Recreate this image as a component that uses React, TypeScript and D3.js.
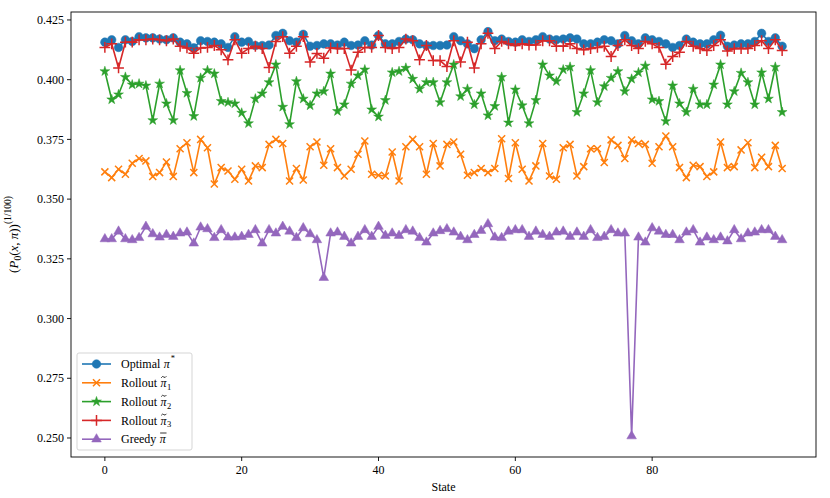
import { useLayoutEffect, useRef, useState } from "react";
import * as d3 from "d3";

const W = 830;
const H = 498;
const M = { top: 12, right: 14, bottom: 41, left: 71 };

const states = d3.range(100);

const optimal = [
  0.4157, 0.4167, 0.4135, 0.4167, 0.416, 0.418, 0.4175, 0.4175, 0.417, 0.4167,
  0.4175, 0.4157, 0.415, 0.4133, 0.4163, 0.416, 0.4157, 0.415, 0.4135, 0.418,
  0.4157, 0.416, 0.4143, 0.4143, 0.4145, 0.4185, 0.4194, 0.4163, 0.4157, 0.419,
  0.414, 0.4143, 0.415, 0.415, 0.4145, 0.4157, 0.4143, 0.4145, 0.4163, 0.4145,
  0.4185, 0.415, 0.415, 0.416, 0.417, 0.4167, 0.415, 0.4143, 0.4143, 0.4143,
  0.4145, 0.418, 0.4163, 0.415, 0.413, 0.4167, 0.4201, 0.4163, 0.417, 0.416,
  0.4157, 0.4167, 0.416, 0.4167, 0.418, 0.417, 0.4167, 0.417, 0.4175, 0.417,
  0.415, 0.415, 0.4157, 0.4167, 0.4163, 0.415, 0.4185, 0.4163, 0.415, 0.4175,
  0.4167, 0.416, 0.415, 0.4135, 0.4143, 0.417, 0.4157, 0.415, 0.415, 0.4167,
  0.4186, 0.414, 0.4145, 0.415, 0.415, 0.416, 0.4194, 0.416, 0.4175, 0.414,
];

const rollout1 = [
  0.3614, 0.359, 0.3625, 0.3604, 0.365, 0.367, 0.366, 0.3595, 0.3611, 0.3655,
  0.3595, 0.3711, 0.3736, 0.3611, 0.375, 0.3715, 0.3563, 0.3632, 0.3618, 0.3583,
  0.3625, 0.3576, 0.3639, 0.3632, 0.3729, 0.375, 0.3733, 0.3576, 0.3628, 0.358,
  0.3719, 0.3739, 0.3642, 0.3711, 0.3632, 0.3597, 0.3625, 0.3688, 0.3743, 0.3604,
  0.36, 0.3597, 0.3697, 0.3576, 0.3719, 0.375, 0.3719, 0.3604, 0.3733, 0.3639,
  0.3729, 0.3739, 0.3688, 0.36, 0.3611, 0.3628, 0.3611, 0.3628, 0.3753, 0.3586,
  0.3736, 0.3625, 0.3576, 0.3639, 0.3733, 0.3597, 0.3583, 0.3715, 0.3729, 0.3597,
  0.3636, 0.3711, 0.3711, 0.3653, 0.3748, 0.3725, 0.367, 0.3747, 0.3733, 0.3729,
  0.365, 0.3719, 0.3764, 0.3719, 0.3632, 0.359, 0.3642, 0.3636, 0.3595, 0.3614,
  0.3739, 0.3632, 0.3636, 0.3706, 0.3736, 0.3632, 0.3675, 0.3636, 0.3725, 0.3628,
];

const rollout2 = [
  0.4035, 0.3917, 0.3938, 0.4011, 0.3979, 0.3983, 0.3975, 0.383, 0.3983, 0.39,
  0.383, 0.4039, 0.3944, 0.3847, 0.4007, 0.4039, 0.4025, 0.391, 0.3905, 0.39,
  0.3861, 0.3817, 0.392, 0.3942, 0.3989, 0.4063, 0.3886, 0.3813, 0.3993, 0.392,
  0.3892, 0.3942, 0.3951, 0.4025, 0.3868, 0.3896, 0.3983, 0.4017, 0.4042, 0.3875,
  0.3845, 0.3914, 0.403, 0.4035, 0.4049, 0.4003, 0.3961, 0.3989, 0.3989, 0.3905,
  0.3989, 0.4063, 0.393, 0.3961, 0.3896, 0.3942, 0.385, 0.3889, 0.4011, 0.382,
  0.3958, 0.3892, 0.3817, 0.3914, 0.4063, 0.4017, 0.3993, 0.4042, 0.4053, 0.3864,
  0.3942, 0.4039, 0.3905, 0.3972, 0.4007, 0.4035, 0.3951, 0.4003, 0.403, 0.4058,
  0.3917, 0.391, 0.3826, 0.3975, 0.39, 0.3864, 0.3961, 0.3896, 0.3896, 0.3979,
  0.4063, 0.3896, 0.3951, 0.4028, 0.3989, 0.3896, 0.403, 0.392, 0.4053, 0.3864,
];

const rollout3 = [
  0.4135, 0.415, 0.4049, 0.4157, 0.4157, 0.4167, 0.4167, 0.417, 0.4167, 0.4163,
  0.417, 0.414, 0.4133, 0.4111, 0.4133, 0.4135, 0.4143, 0.4125, 0.4083, 0.4167,
  0.4111, 0.413, 0.414, 0.413, 0.4051, 0.416, 0.418, 0.4111, 0.414, 0.418,
  0.4074, 0.411, 0.409, 0.4133, 0.413, 0.413, 0.404, 0.4115, 0.4135, 0.4135,
  0.4185, 0.4135, 0.413, 0.4135, 0.417, 0.4163, 0.4083, 0.4143, 0.408, 0.408,
  0.4055, 0.4163, 0.4074, 0.4157, 0.4049, 0.415, 0.4194, 0.413, 0.416, 0.415,
  0.4143, 0.415, 0.4145, 0.4145, 0.4163, 0.4163, 0.414, 0.414, 0.415, 0.413,
  0.4125, 0.413, 0.4135, 0.414, 0.4097, 0.4143, 0.4167, 0.4143, 0.413, 0.416,
  0.415, 0.4135, 0.4065, 0.4097, 0.4115, 0.416, 0.414, 0.413, 0.4122, 0.4143,
  0.4167, 0.412, 0.413, 0.413, 0.413, 0.4143, 0.4163, 0.413, 0.4167, 0.4122,
];

const greedy = [
  0.3333, 0.3333, 0.3365, 0.3333, 0.3329, 0.3338, 0.3385, 0.3354, 0.334, 0.3351,
  0.3343, 0.3357, 0.3361, 0.3315, 0.3382, 0.3375, 0.3338, 0.3371, 0.334, 0.334,
  0.3343, 0.3351, 0.3371, 0.3315, 0.3371, 0.3357, 0.3385, 0.3365, 0.3338, 0.3379,
  0.3354, 0.3329, 0.3171, 0.3357, 0.3361, 0.3343, 0.3315, 0.3343, 0.3371, 0.3343,
  0.3385, 0.3347, 0.3357, 0.3347, 0.3371, 0.3365, 0.3338, 0.3319, 0.3357, 0.3367,
  0.3375, 0.3361, 0.3343, 0.3329, 0.3351, 0.3368, 0.3396, 0.334, 0.3338, 0.3365,
  0.3371, 0.3371, 0.3343, 0.3365, 0.3351, 0.3343, 0.3361, 0.3365, 0.3343, 0.3361,
  0.3343, 0.3371, 0.3338, 0.3343, 0.3371, 0.3357, 0.3357, 0.2508, 0.334, 0.3319,
  0.3379, 0.3365, 0.3351, 0.3351, 0.3329, 0.3361, 0.3371, 0.3319, 0.334, 0.3329,
  0.334, 0.3324, 0.3371, 0.3333, 0.3357, 0.3361, 0.3371, 0.3371, 0.3343, 0.3329,
];

const xTicks = [0, 20, 40, 60, 80];
const yTicks = [0.25, 0.275, 0.3, 0.325, 0.35, 0.375, 0.4, 0.425];

type Series = {
  values: number[];
  color: string;
  symbol: d3.SymbolType;
  size: number;
  filled: boolean;
  name: string;
  accent?: "tilde" | "bar";
  sub?: string;
  sup?: string;
};

const series: Series[] = [
  { values: optimal, color: "#1f77b4", symbol: d3.symbolCircle, size: 58, filled: true, name: "Optimal", sup: "*" },
  { values: rollout1, color: "#ff7f0e", symbol: d3.symbolTimes, size: 34, filled: false, name: "Rollout", accent: "tilde", sub: "1" },
  { values: rollout2, color: "#2ca02c", symbol: d3.symbolStar, size: 30, filled: true, name: "Rollout", accent: "tilde", sub: "2" },
  { values: rollout3, color: "#d62728", symbol: d3.symbolPlus, size: 40, filled: false, name: "Rollout", accent: "tilde", sub: "3" },
  { values: greedy, color: "#9467bd", symbol: d3.symbolTriangle, size: 40, filled: true, name: "Greedy", accent: "bar" },
];

const FONT = "'Liberation Serif', 'DejaVu Serif', serif";

export default function App() {
  const nameRefs = useRef<(SVGTextElement | null)[]>([]);
  const [nameW, setNameW] = useState<number[]>([38, 36, 36, 36, 37]);

  useLayoutEffect(() => {
    const w = nameRefs.current.map((el) => (el ? el.getComputedTextLength() : 36));
    setNameW(w);
  }, []);

  const x = d3.scaleLinear().domain([-4.95, 103.95]).range([M.left, W - M.right]);
  const y = d3.scaleLinear().domain([0.24204, 0.42833]).range([H - M.bottom, M.top]);

  const line = (vals: number[]) =>
    d3.line<number>().x((_, i) => x(states[i])).y((v) => y(v))(vals) ?? "";

  const legendX = 77;
  const legendY = 353;
  const rowH = 18.8;

  return (
    <svg
      width={W}
      height={H}
      viewBox={`0 0 ${W} ${H}`}
      style={{ position: "absolute", left: 0, top: 0, background: "#fff", fontFamily: FONT }}
    >
      <defs>
        <clipPath id="plot">
          <rect x={M.left} y={M.top} width={W - M.left - M.right} height={H - M.top - M.bottom} />
        </clipPath>
      </defs>

      <g clipPath="url(#plot)">
        {series.map((s, k) => {
          const sym = d3.symbol(s.symbol, s.size)() ?? "";
          return (
            <g key={k}>
              <path d={line(s.values)} fill="none" stroke={s.color} strokeWidth={1.6} strokeLinejoin="round" />
              {s.values.map((v, i) => (
                <path
                  key={i}
                  d={sym}
                  transform={`translate(${x(states[i])},${y(v)})`}
                  fill={s.filled ? s.color : "none"}
                  stroke={s.color}
                  strokeWidth={s.filled ? 0.5 : 1.5}
                />
              ))}
            </g>
          );
        })}
      </g>

      {/* frame */}
      <rect
        x={M.left}
        y={M.top}
        width={W - M.left - M.right}
        height={H - M.top - M.bottom}
        fill="none"
        stroke="#000"
        strokeWidth={0.9}
      />

      {/* x axis */}
      {xTicks.map((t) => (
        <g key={t} transform={`translate(${x(t)},${H - M.bottom})`}>
          <line y2={4} stroke="#000" strokeWidth={0.9} />
          <text y={17} textAnchor="middle" fontSize={12}>
            {t}
          </text>
        </g>
      ))}
      <text x={(M.left + W - M.right) / 2} y={491} textAnchor="middle" fontSize={12}>
        State
      </text>

      {/* y axis */}
      {yTicks.map((t) => (
        <g key={t} transform={`translate(${M.left},${y(t)})`}>
          <line x2={-4} stroke="#000" strokeWidth={0.9} />
          <text x={-7} dy="0.35em" textAnchor="end" fontSize={12}>
            {t.toFixed(3)}
          </text>
        </g>
      ))}
      <text transform={`translate(18,${(M.top + H - M.bottom) / 2}) rotate(-90)`} textAnchor="middle" fontSize={13}>
        (<tspan fontStyle="italic">P</tspan>
        <tspan fontSize={9.5} dy={3}>0</tspan>
        <tspan dy={-3}>(</tspan>
        <tspan fontStyle="italic">x</tspan>, <tspan fontStyle="italic">{"\u03c0"}</tspan>))
        <tspan fontSize={9.5} dy={-7}>(1/100)</tspan>
      </text>

      {/* legend */}
      <rect
        x={legendX}
        y={legendY}
        width={115}
        height={97}
        rx={2}
        fill="#fff"
        fillOpacity={0.8}
        stroke="#d0d0d0"
        strokeWidth={0.9}
      />
      {series.map((s, k) => {
        const cy = legendY + 11 + k * rowH;
        const sym = d3.symbol(s.symbol, s.size)() ?? "";
        const px = 121 + nameW[k] + 3.5;
        const pc = px + 3.3;
        return (
          <g key={k}>
            <line x1={82} x2={111} y1={cy} y2={cy} stroke={s.color} strokeWidth={1.6} />
            <path
              d={sym}
              transform={`translate(96.5,${cy})`}
              fill={s.filled ? s.color : "none"}
              stroke={s.color}
              strokeWidth={s.filled ? 0.5 : 1.5}
            />
            <text
              ref={(el) => {
                nameRefs.current[k] = el;
              }}
              x={121}
              y={cy}
              dy="0.35em"
              fontSize={12}
            >
              {s.name}
            </text>
            <text x={px} y={cy} dy="0.35em" fontSize={12} fontStyle="italic">
              {"\u03c0"}
            </text>
            {s.accent === "tilde" && (
              <path
                d={`M${pc - 2.6},${cy - 5} q1.3,-2.2 2.6,-0.8 t2.6,-0.8`}
                fill="none"
                stroke="#000"
                strokeWidth={0.8}
              />
            )}
            {s.accent === "bar" && (
              <line x1={pc - 3} x2={pc + 3.4} y1={cy - 6.2} y2={cy - 6.2} stroke="#000" strokeWidth={0.8} />
            )}
            {s.sup && (
              <text x={px + 7} y={cy - 3} fontSize={8.5}>
                {s.sup}
              </text>
            )}
            {s.sub && (
              <text x={px + 6.5} y={cy + 7} fontSize={8.5}>
                {s.sub}
              </text>
            )}
          </g>
        );
      })}
    </svg>
  );
}
